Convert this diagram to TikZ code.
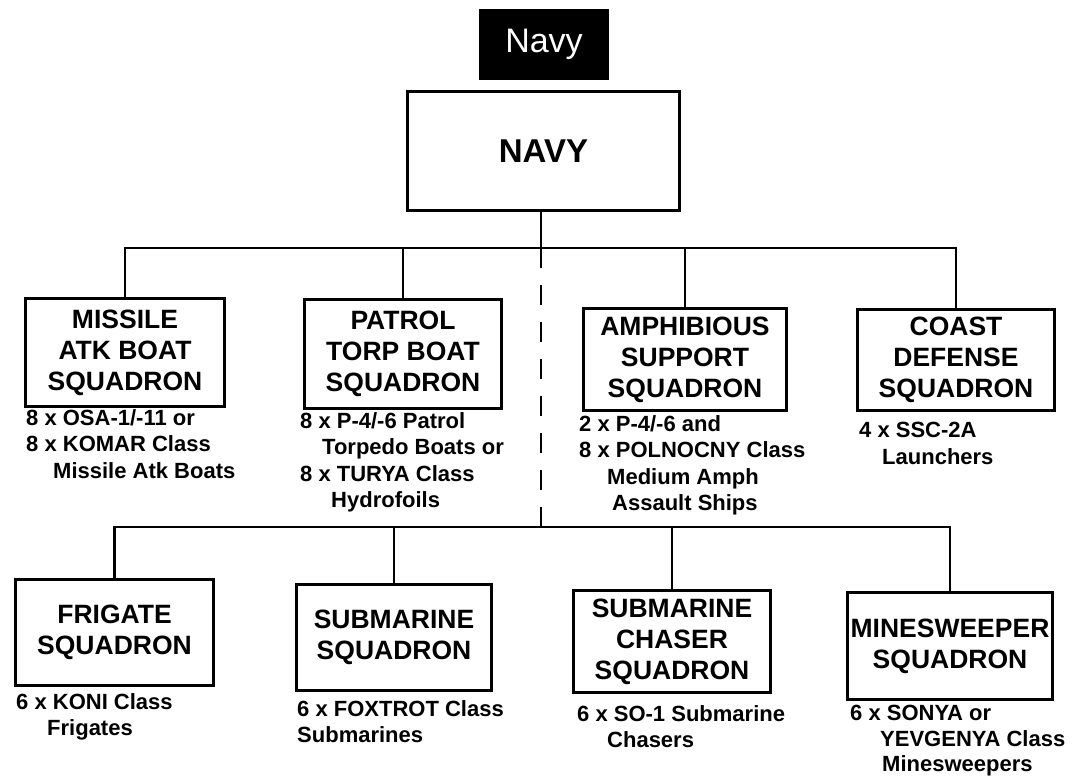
\documentclass[tikz,border=0pt]{standalone}
\usepackage{fontspec}
\setmainfont{Liberation Sans}
\begin{document}
\begin{tikzpicture}[x=1pt,y=-1pt,
  box/.style={draw, line width=3pt, inner sep=0pt, align=center, font=\bfseries\fontsize{26.5}{31}\selectfont},
  note/.style={anchor=north west, inner sep=0pt, align=left, font=\bfseries\fontsize{22}{26.5}\selectfont},
  link/.style={line width=2.5pt},
  dashlink/.style={line width=2.5pt, dash pattern=on 20pt off 17pt}]
\fill[white] (0,0) rectangle (1076,778);
\useasboundingbox (0,0) rectangle (1076,778);

\node[fill=black, minimum width=130pt, minimum height=71pt, inner sep=0pt, text=white,
      font=\fontsize{34}{34}\selectfont] (title) at (544,44.5) {Navy};
\node[box, minimum width=272pt, minimum height=119pt, font=\bfseries\fontsize{33}{33}\selectfont] (navy) at (543.5,151) {NAVY};

\node[box, minimum width=199pt, minimum height=108pt] (mis) at (125,352.5) {MISSILE\\ATK BOAT\\SQUADRON};
\node[box, minimum width=197pt, minimum height=109pt] (pat) at (403,354) {PATROL\\TORP BOAT\\SQUADRON};
\node[box, minimum width=203pt, minimum height=102pt] (amp) at (685,359.5) {AMPHIBIOUS\\SUPPORT\\SQUADRON};
\node[box, minimum width=197pt, minimum height=101pt] (cst) at (956,360) {COAST\\DEFENSE\\SQUADRON};

\node[box, minimum width=198pt, minimum height=106pt] (fri) at (114.5,632.5) {FRIGATE\\SQUADRON};
\node[box, minimum width=195pt, minimum height=106pt] (sub) at (394,637.5) {SUBMARINE\\SQUADRON};
\node[box, minimum width=197pt, minimum height=102pt] (chs) at (672,641.5) {SUBMARINE\\CHASER\\SQUADRON};
\node[box, minimum width=205pt, minimum height=107pt] (mns) at (950,646) {MINESWEEPER\\SQUADRON};

\node[note] (nmis) at (26,409) {8 x OSA-1/-11 or\\8 x KOMAR Class\\\hspace*{27pt}Missile Atk Boats};
\node[note] (npat) at (300,412) {8 x P-4/-6 Patrol\\\hspace*{22pt}Torpedo Boats or\\8 x TURYA Class\\\hspace*{31pt}Hydrofoils};
\node[note] (namp) at (579,415) {2 x P-4/-6 and\\8 x POLNOCNY Class\\\hspace*{28pt}Medium Amph\\\hspace*{33pt}Assault Ships};
\node[note] (ncst) at (859,422) {4 x SSC-2A\\\hspace*{23pt}Launchers};
\node[note] (nfri) at (16,693) {6 x KONI Class\\\hspace*{31pt}Frigates};
\node[note] (nsub) at (297,700) {6 x FOXTROT Class\\Submarines};
\node[note] (nchs) at (577,705) {6 x SO-1 Submarine\\\hspace*{30pt}Chasers};
\node[note, font=\bfseries\fontsize{22}{25.5}\selectfont] (nmns) at (850,705) {6 x SONYA or\\\hspace*{30pt}YEVGENYA Class\\\hspace*{32pt}Minesweepers};

\coordinate (bus1) at (541,248);
\coordinate (bus2) at (541,527);

\draw[link] (navy.south -| bus1) -- (bus1);
\draw[link] (mis.north) |- (bus1) -| (cst.north);
\draw[link] (pat.north) -- (pat.north |- bus1);
\draw[link] (amp.north) -- (amp.north |- bus1);
\draw[dashlink] (bus1) -- (bus2);
\draw[link] (fri.north) |- (bus2) -| (mns.north);
\draw[link] (sub.north) -- (sub.north |- bus2);
\draw[link] (chs.north) -- (chs.north |- bus2);
\end{tikzpicture}
\end{document}
